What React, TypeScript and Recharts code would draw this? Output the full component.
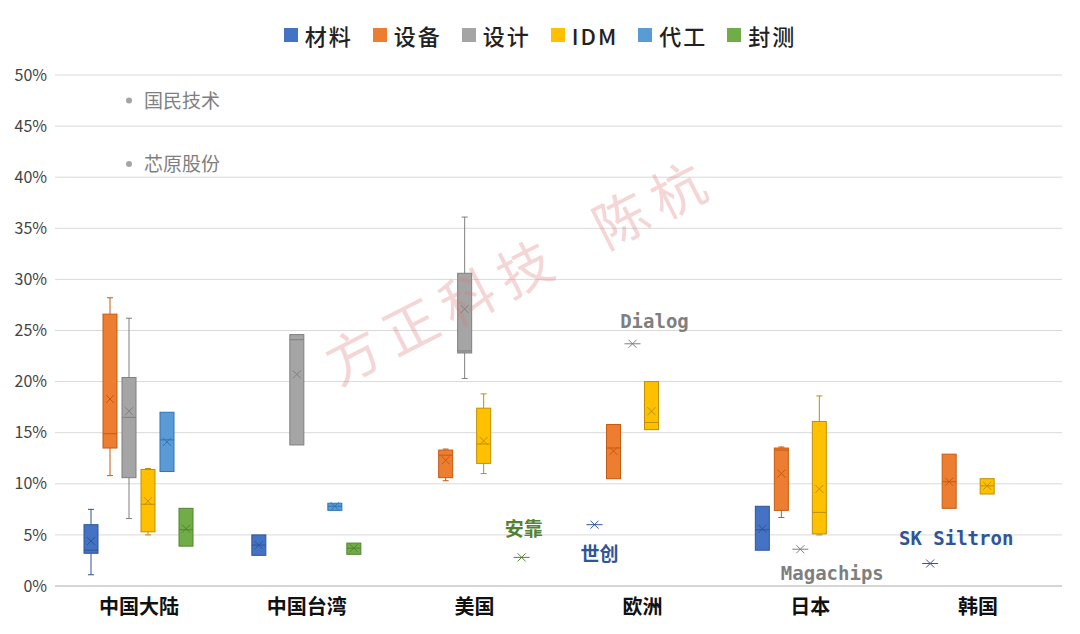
import React from 'react';
import { ComposedChart, Bar, XAxis, YAxis, CartesianGrid } from 'recharts';

// stats: [min, q1, median, q3, max, mean] in %
type Stat = number[] | null;

const categories = ['中国大陆', '中国台湾', '美国', '欧洲', '日本', '韩国'];
const seriesNames = ['材料', '设备', '设计', 'IDM', '代工', '封测'];
const colors = ['#4472C4', '#ED7D31', '#A5A5A5', '#FFC000', '#5B9BD5', '#70AD47'];
const strokes = ['#2F5597', '#C55A11', '#7F7F7F', '#BF9000', '#2E75B6', '#548235'];

const materials: Stat[] = [[1.1, 3.2, 3.5, 6.0, 7.5, 4.4], [3.0, 3.0, 4.0, 5.0, 5.0, 4.0], null, [6.0, 6.0, 6.0, 6.0, 6.0, 6.0], [3.5, 3.5, 5.5, 7.8, 7.8, 5.6], [2.2, 2.2, 2.2, 2.2, 2.2, 2.2]];
const equipment: Stat[] = [[10.8, 13.5, 14.9, 26.6, 28.2, 18.3], null, [10.3, 10.6, 12.8, 13.3, 13.4, 12.3], [10.5, 10.5, 13.5, 15.8, 15.8, 13.2], [6.7, 7.4, 13.3, 13.5, 13.6, 11.0], [7.6, 7.6, 10.2, 12.9, 12.9, 10.2]];
const design: Stat[] = [[6.6, 10.6, 16.5, 20.4, 26.2, 17.1], [13.8, 13.8, 24.1, 24.6, 24.6, 20.7], [20.3, 22.8, 23.0, 30.6, 36.1, 27.1], [23.7, 23.7, 23.7, 23.7, 23.7, 23.7], [3.6, 3.6, 3.6, 3.6, 3.6, 3.6], null];
const idm: Stat[] = [[5.0, 5.3, 8.0, 11.4, 11.5, 8.3], null, [11.0, 12.0, 13.9, 17.4, 18.8, 14.2], [15.3, 15.3, 16.0, 20.0, 20.0, 17.1], [5.0, 5.1, 7.2, 16.1, 18.6, 9.5], [9.0, 9.0, 9.8, 10.5, 10.5, 9.8]];
const foundry: Stat[] = [[11.2, 11.2, 14.3, 17.0, 17.0, 14.1], [7.4, 7.4, 7.8, 8.1, 8.1, 7.8], null, null, null, null];
const packaging: Stat[] = [[3.9, 3.9, 5.5, 7.6, 7.6, 5.6], [3.1, 3.1, 3.7, 4.2, 4.2, 3.7], [2.8, 2.8, 2.8, 2.8, 2.8, 2.8], null, null, null];
const allSeries = [materials, equipment, design, idm, foundry, packaging];

// single-company labels: [series, category, text]
const pointLabels: [number, number, string][] = [[5, 2, '安靠'], [0, 3, '世创'], [2, 3, 'Dialog'], [2, 4, 'Magachips'], [0, 5, 'SK Siltron']];
const labelOffsets: Record<string, [number, number]> = { '安靠': [2, -21], '世创': [5, 36], 'Dialog': [22, -16], 'Magachips': [32, 31], 'SK Siltron': [26, -19] };
const outlierNames = ['国民技术', '芯原股份'];
const outlierValues = [47.5, 41.3];

const data = categories.map((name, i) => {
  const row: any = { name };
  allSeries.forEach((s, j) => (row['s' + j] = s[i]));
  return row;
});

const makeShape = (j: number) => (props: any) => {
  const { x, y, width, height, payload } = props;
  const st: number[] | null = payload['s' + j];
  if (!st || !height) return <g />;
  const base = y + height;
  const k = height / st[4];
  const py = (v: number) => base - v * k;
  const cx = x + width / 2;
  const ci = categories.indexOf(payload.name);
  const label = pointLabels.find((l) => l[0] === j && l[1] === ci);
  const mx = py(st[5]);
  const cross = (
    <g stroke={strokes[j]} strokeWidth={1}>
      <line x1={cx - 4} y1={mx - 4} x2={cx + 4} y2={mx + 4} />
      <line x1={cx - 4} y1={mx + 4} x2={cx + 4} y2={mx - 4} />
    </g>
  );
  const extra: any[] = [];
  if (j === 2 && ci === 0) {
    outlierValues.forEach((v, oi) => {
      extra.push(<circle key={'c' + oi} cx={cx} cy={py(v)} r={3} fill="#A5A5A5" />);
      extra.push(
        <text key={'t' + oi} x={cx + 15} y={py(v) + 7} fontSize={19} fill="#7F7F7F" fontFamily="Noto Sans CJK SC">{outlierNames[oi]}</text>
      );
    });
  }
  if (label) {
    const [dx, dy] = labelOffsets[label[2]];
    return (
      <g>
        <line x1={cx - 8} x2={cx + 8} y1={mx} y2={mx} stroke={strokes[j]} />
        {cross}
        <text x={cx + dx} y={mx + dy} textAnchor="middle" fontSize={19} fontWeight="bold" fill={strokes[j]} fontFamily="DejaVu Sans Mono, Noto Sans CJK SC">{label[2]}</text>
      </g>
    );
  }
  return (
    <g>
      <line x1={cx} x2={cx} y1={py(st[4])} y2={py(st[3])} stroke={strokes[j]} />
      <line x1={cx} x2={cx} y1={py(st[1])} y2={py(st[0])} stroke={strokes[j]} />
      {st[4] > st[3] && <line x1={cx - 3} x2={cx + 3} y1={py(st[4])} y2={py(st[4])} stroke={strokes[j]} />}
      {st[0] < st[1] && <line x1={cx - 3} x2={cx + 3} y1={py(st[0])} y2={py(st[0])} stroke={strokes[j]} />}
      <rect x={x} y={py(st[3])} width={width} height={Math.max(1, py(st[1]) - py(st[3]))} fill={colors[j]} stroke={strokes[j]} />
      <line x1={x} x2={x + width} y1={py(st[2])} y2={py(st[2])} stroke={strokes[j]} />
      {cross}
      {extra}
    </g>
  );
};

const LegendRow = () => (
  <div style={{ position: 'absolute', top: 19, left: 0, width: 1080, display: 'flex', justifyContent: 'center', gap: 20, fontSize: 22, fontWeight: 500, letterSpacing: 2, fontFamily: 'Noto Sans CJK SC', color: '#222' }}>
    {seriesNames.map((n, j) => (
      <span key={n} style={{ display: 'flex', alignItems: 'center', gap: 7 }}>
        <span style={{ width: 14, height: 14, background: colors[j], display: 'inline-block' }} />
        {n}
      </span>
    ))}
  </div>
);

export default function App() {
  return (
    <div style={{ position: 'absolute', top: 0, left: 0, width: 1080, height: 634, background: '#fff', fontFamily: 'Noto Sans CJK SC' }}>
      <LegendRow />
      <ComposedChart width={1080} height={634} data={data} margin={{ top: 75, right: 18, bottom: 8, left: 0 }} barSize={14} barGap={5}>
        <CartesianGrid vertical={false} stroke="#D9D9D9" />
        <XAxis dataKey="name" height={40} tickLine={false} stroke="#BFBFBF" tick={{ fill: '#111', fontSize: 20, fontWeight: 'bold' }} tickMargin={8} />
        <YAxis width={55} domain={[0, 50]} ticks={[0, 5, 10, 15, 20, 25, 30, 35, 40, 45, 50]} tickFormatter={(v) => v + '%'} axisLine={false} tickLine={false} tick={{ fill: '#444', fontSize: 16 }} />
        {seriesNames.map((n, j) => (
          <Bar key={n} dataKey={(d: any) => (d['s' + j] ? [0, d['s' + j][4]] : null)} shape={makeShape(j)} isAnimationActive={false} />
        ))}
      </ComposedChart>
      <div style={{ position: 'absolute', left: 310, top: 330, transform: 'rotate(-27deg)', transformOrigin: 'left top', fontSize: 54, color: 'rgba(220,120,120,0.3)', letterSpacing: 10, whiteSpace: 'nowrap', pointerEvents: 'none' }}>
        方正科技&nbsp;&nbsp;陈杭
      </div>
    </div>
  );
}
